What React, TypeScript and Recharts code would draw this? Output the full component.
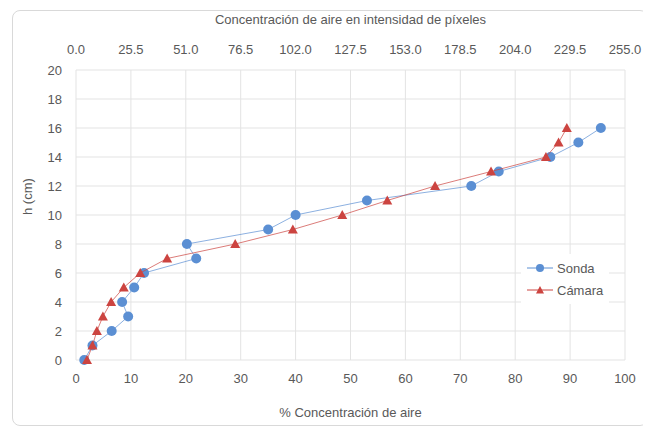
import {
  ScatterChart,
  Scatter,
  XAxis,
  YAxis,
  CartesianGrid,
} from "recharts";

const heights = [0, 1, 2, 3, 4, 5, 6, 7, 8, 9, 10, 11, 12, 13, 14, 15, 16];
const sondaPct = [1.5, 3, 6.5, 9.5, 8.4, 10.6, 12.4, 21.9, 20.2, 35, 40, 53, 72, 77, 86.4, 91.5, 95.6];
const camaraPct = [2, 3, 3.8, 4.9, 6.4, 8.7, 11.7, 16.6, 29, 39.5, 48.5, 56.7, 65.4, 75.6, 85.6, 87.9, 89.4];

const bottomTicks = [0, 10, 20, 30, 40, 50, 60, 70, 80, 90, 100];
const topTicks = [0, 25.5, 51, 76.5, 102, 127.5, 153, 178.5, 204, 229.5, 255];
const yTicks = [0, 2, 4, 6, 8, 10, 12, 14, 16, 18, 20];

const sonda = heights.map((h, i) => ({ x: sondaPct[i], y: h }));
const camara = heights.map((h, i) => ({ x: camaraPct[i], y: h }));
// anchors the secondary (top) axis so that it renders; nothing is drawn for it
const topAnchor = topTicks.map((t) => ({ x: t, y: 0 }));

const BLUE = "#5B8FD3";
const RED = "#CC4440";
const TEXT = "#595959";
const FONT = "'Liberation Sans', Arial, sans-serif";
const FS = 13;

const Dot = (p: any) => <circle cx={p.cx} cy={p.cy} r={5} fill={p.fill} />;
const Tri = (p: any) => (
  <polygon
    points={`${p.cx},${p.cy - 5} ${p.cx + 5},${p.cy + 4} ${p.cx - 5},${p.cy + 4}`}
    fill={p.fill}
  />
);

function LegendBox() {
  const items = [
    { name: "Sonda", color: BLUE, shape: "circle" },
    { name: "Cámara", color: RED, shape: "triangle" },
  ];
  return (
    <div style={{ background: "#fff", padding: "3px 6px", fontFamily: FONT, fontSize: FS, color: TEXT }}>
      {items.map((it) => (
        <div key={it.name} style={{ display: "flex", alignItems: "center", height: 22 }}>
          <svg width={26} height={12} style={{ marginRight: 4 }}>
            <line x1={0} y1={6} x2={26} y2={6} stroke={it.color} strokeWidth={1} />
            {it.shape === "circle" ? (
              <circle cx={13} cy={6} r={4} fill={it.color} />
            ) : (
              <polygon points="13,2 17,9.5 9,9.5" fill={it.color} />
            )}
          </svg>
          <span>{it.name}</span>
        </div>
      ))}
    </div>
  );
}

export default function App() {
  return (
    <div
      style={{
        position: "relative",
        marginLeft: 4,
        marginTop: 2,
        width: 634,
        height: 414,
        border: "1px solid #d9d9d9",
        borderRadius: 8,
        background: "#fff",
      }}
    >
      <ScatterChart
        width={632}
        height={412}
        margin={{ top: 0, right: 20, left: 0, bottom: 0 }}
        style={{ fontFamily: FONT }}
      >
        <CartesianGrid stroke="#e3e3e3" xAxisId="bottom" />
        <XAxis
          xAxisId="bottom"
          type="number"
          dataKey="x"
          domain={[0, 100]}
          ticks={bottomTicks}
          axisLine={false}
          tickLine={false}
          tickMargin={8}
          height={63}
          tick={{ fill: TEXT, fontSize: FS }}
          label={{ value: "% Concentración de aire", position: "insideBottom", offset: 6, fill: TEXT, fontSize: FS }}
        />
        <XAxis
          xAxisId="top"
          orientation="top"
          type="number"
          dataKey="x"
          domain={[0, 255]}
          ticks={topTicks}
          tickFormatter={(v: number) => v.toFixed(1)}
          axisLine={false}
          tickLine={false}
          tickMargin={10}
          height={59}
          tick={{ fill: TEXT, fontSize: FS }}
          label={{ value: "Concentración de aire en intensidad de píxeles", position: "insideTop", offset: 4, fill: TEXT, fontSize: FS }}
        />
        <YAxis
          type="number"
          dataKey="y"
          domain={[0, 20]}
          ticks={yTicks}
          axisLine={false}
          tickLine={false}
          tickMargin={8}
          width={63}
          tick={{ fill: TEXT, fontSize: FS }}
          label={{ value: "h (cm)", angle: -90, position: "insideLeft", offset: 14, fill: TEXT, fontSize: FS }}
        />
        <Scatter
          data={topAnchor}
          xAxisId="top"
          shape={() => <g />}
          legendType="none"
          isAnimationActive={false}
        />
        <Scatter
          name="Sonda"
          data={sonda}
          xAxisId="bottom"
          fill={BLUE}
          line={{ stroke: BLUE, strokeWidth: 1, strokeOpacity: 0.7 }}
          shape={Dot}
          isAnimationActive={false}
        />
        <Scatter
          name="Cámara"
          data={camara}
          xAxisId="bottom"
          fill={RED}
          line={{ stroke: RED, strokeWidth: 1, strokeOpacity: 0.7 }}
          shape={Tri}
          isAnimationActive={false}
        />
      </ScatterChart>
      <div style={{ position: "absolute", left: 508, top: 243 }}>
        <LegendBox />
      </div>
    </div>
  );
}
